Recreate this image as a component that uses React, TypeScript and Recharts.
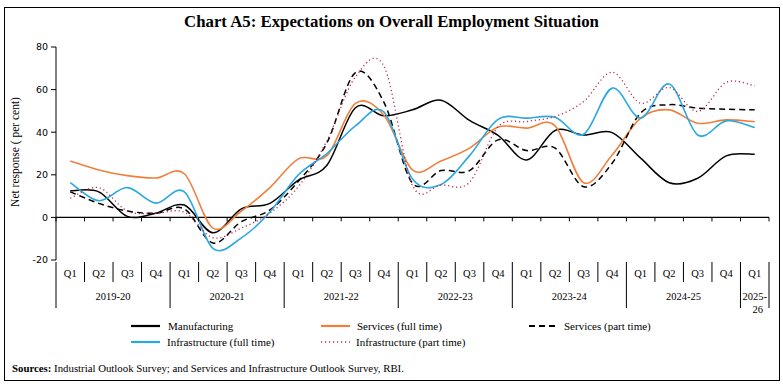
import React from 'react'
import { ComposedChart, Line, XAxis, YAxis, ReferenceLine } from 'recharts'

// quarters 2019-20 Q1 .. 2025-26 Q1
const years = ['2019-20', '2020-21', '2021-22', '2022-23', '2023-24', '2024-25', '2025-26']
const quarterNames = ['Q1', 'Q2', 'Q3', 'Q4']

const manufacturing = [12.5, 12, 0.5, 2, 5.8, -7.2, 4, 6.6, 17.5, 24.5, 51.5, 47.7, 50.5, 55, 45.5, 38.5, 27, 40.8, 38.7, 39.8, 27.8, 16.3, 18.4, 28.9, 29.6]
const servicesFull = [26.5, 22.3, 19.6, 18.5, 20.5, -5, 3, 14, 27.5, 29, 53.5, 48, 22.3, 26.5, 32.5, 42.4, 41.9, 43, 16.3, 29.3, 46.6, 50.5, 44.2, 45.8, 44.9]
const servicesPart = [12, 6.6, 3, 2, 4, -12, -2, 3.5, 17, 35, 68, 54, 16, 22, 22, 36.4, 31.4, 32.5, 14.4, 25.4, 49, 52.9, 51.3, 50.8, 50.5]
const infraFull = [16.3, 7.8, 14, 6.7, 12, -14.5, -9.6, 2.5, 20, 30, 43, 49.5, 18, 15.5, 29, 46, 46.6, 47, 39, 60.7, 46.6, 62.6, 38.7, 45.3, 42.2]
const infraPart = [9, 14, 3, 2, 2.4, -9.5, -5, 2, 14.5, 36, 66, 71, 15, 15.2, 16.5, 42.5, 45, 47.4, 54.4, 68.2, 53.6, 61, 49.7, 63.4, 61.8]

const yTicks = [-20, 0, 20, 40, 60, 80]

const data = manufacturing.map((_, i) => ({
  id: i,
  q: quarterNames[i % 4],
  year: years[Math.floor(i / 4)],
  mfg: manufacturing[i],
  svcFull: servicesFull[i],
  svcPart: servicesPart[i],
  infFull: infraFull[i],
  infPart: infraPart[i],
}))

const series = [
  { key: 'mfg', name: 'Manufacturing', color: '#000000', dash: undefined, width: 1.5 },
  { key: 'svcFull', name: 'Services (full time)', color: '#F07F3C', dash: undefined, width: 1.6 },
  { key: 'svcPart', name: 'Services (part time)', color: '#000000', dash: '6 4', width: 1.5 },
  { key: 'infFull', name: 'Infrastructure (full time)', color: '#2AA8E0', dash: undefined, width: 1.6 },
  { key: 'infPart', name: 'Infrastructure (part time)', color: '#C02848', dash: '1.2 2.8', width: 1.3 },
]

// chart geometry
const W = 783
const H = 384
const M = { top: 47, right: 14, left: 0, bottom: 24 }
const Y_AXIS_W = 56
const X_AXIS_H = 100
const plotTop = M.top
const plotH = H - M.top - M.bottom - X_AXIS_H
const zeroY = plotTop + (plotH * 80) / 100
const halfBand = (W - M.right - M.left - Y_AXIS_W) / data.length / 2

const serif = '"Liberation Serif", "Times New Roman", serif'

// Excel-like smoothed line (Catmull-Rom through the points)
function smoothCurve(context: any) {
  let pts: number[][] = []
  return {
    areaStart() {},
    areaEnd() {},
    lineStart() {
      pts = []
    },
    point(x: number, y: number) {
      pts.push([+x, +y])
    },
    lineEnd() {
      if (!pts.length) return
      context.moveTo(pts[0][0], pts[0][1])
      for (let i = 0; i < pts.length - 1; i++) {
        const p0 = pts[Math.max(0, i - 1)]
        const p1 = pts[i]
        const p2 = pts[i + 1]
        const p3 = pts[Math.min(pts.length - 1, i + 2)]
        const t = 1 / 6
        context.bezierCurveTo(
          p1[0] + (p2[0] - p0[0]) * t,
          p1[1] + (p2[1] - p0[1]) * t,
          p2[0] - (p3[0] - p1[0]) * t,
          p2[1] - (p3[1] - p1[1]) * t,
          p2[0],
          p2[1]
        )
      }
    },
  }
}

function QuarterTick(props: any) {
  const { x, payload, index } = props
  const row = data[payload.value] || data[index]
  const isFirst = row.q === 'Q1'
  const isLast = row.id === data.length - 1
  const groupSize = data.filter((d) => d.year === row.year).length
  const left = x - halfBand
  const right = x + halfBand
  const yearX = left + groupSize * halfBand
  const [yA, yB] = row.year.split('-')
  return (
    <g>
      <line x1={left} x2={left} y1={zeroY} y2={zeroY + 4} stroke="#000" />
      {isLast && <line x1={right} x2={right} y1={zeroY} y2={zeroY + 4} stroke="#000" />}
      <line x1={left} x2={left} y1={262} y2={isFirst ? 308 : 282} stroke="#000" />
      {isLast && <line x1={right} x2={right} y1={262} y2={308} stroke="#000" />}
      <text x={x} y={277} textAnchor="middle" fontSize={10.5} fontFamily={serif} fill="#000">
        {row.q}
      </text>
      {isFirst && groupSize > 1 && (
        <text x={yearX} y={300} textAnchor="middle" fontSize={10.5} fontFamily={serif} fill="#000">
          {row.year}
        </text>
      )}
      {isFirst && groupSize === 1 && (
        <text textAnchor="middle" fontSize={10.5} fontFamily={serif} fill="#000">
          <tspan x={x} y={300}>{yA + '-'}</tspan>
          <tspan x={x + 3} y={313}>{yB}</tspan>
        </text>
      )}
    </g>
  )
}

function YLabel() {
  return (
    <text
      x={0}
      y={0}
      transform={`translate(19, 152) rotate(-90)`}
      textAnchor="middle"
      fontSize={11.5}
      fontFamily={serif}
      fill="#000"
    >
      Net  response ( per cent)
    </text>
  )
}

function LegendBox() {
  const cols = [
    { lx: 131, tx: 168 },
    { lx: 321, tx: 357 },
    { lx: 529, tx: 564 },
  ]
  const rows = [
    [series[0], series[1], series[2]],
    [series[3], series[4]],
  ]
  return (
    <svg width={W} height={40} style={{ position: 'absolute', left: 0, top: 312 }}>
      {rows.map((r, ri) =>
        r.map((s, ci) => {
          const y = 14 + ri * 16
          const c = cols[ci]
          return (
            <g key={s.key}>
              <line
                x1={c.lx}
                x2={c.lx + 29}
                y1={y}
                y2={y}
                stroke={s.color}
                strokeWidth={s.key === 'infPart' ? 1.3 : 2.2}
                strokeDasharray={s.dash}
              />
              <text x={c.tx - (ri === 1 ? 1 : 0)} y={y + 3.5} fontSize={11} fontFamily={serif} fill="#000">
                {s.name}
              </text>
            </g>
          )
        })
      )}
    </svg>
  )
}

export default function App() {
  return (
    <div style={{ position: 'absolute', left: 0, top: 0, width: W, height: H, background: '#fff' }}>
      <div
        style={{
          position: 'absolute',
          left: 4,
          top: 7,
          width: 774,
          height: 372,
          border: '1px solid #000',
        }}
      />
      <div
        style={{
          position: 'absolute',
          left: 0,
          top: 12,
          width: W,
          textAlign: 'center',
          fontFamily: serif,
          fontWeight: 'bold',
          fontSize: 16.8,
          color: '#000',
        }}
      >
        Chart A5: Expectations on Overall Employment Situation
      </div>
      <div style={{ position: 'absolute', left: 0, top: 0 }}>
        <ComposedChart width={W} height={H} data={data} margin={M}>
          <XAxis
            dataKey="id"
            type="category"
            scale="band"
            height={X_AXIS_H}
            axisLine={false}
            tickLine={false}
            interval={0}
            tick={<QuarterTick />}
          />
          <YAxis
            width={Y_AXIS_W}
            domain={[-20, 80]}
            ticks={yTicks}
            interval={0}
            axisLine={{ stroke: '#000' }}
            tickLine={{ stroke: '#000' }}
            tickSize={5}
            tickMargin={3}
            tick={{ fontSize: 9.5, fill: '#000', fontFamily: '"DejaVu Sans", sans-serif' }}
            label={<YLabel />}
          />
          <ReferenceLine y={0} stroke="#000" strokeWidth={1.2} />
          {series.map((s) => (
            <Line
              key={s.key}
              dataKey={s.key}
              name={s.name}
              type={smoothCurve as any}
              stroke={s.color}
              strokeWidth={s.width}
              strokeDasharray={s.dash}
              dot={false}
              activeDot={false}
              isAnimationActive={false}
            />
          ))}
        </ComposedChart>
      </div>
      <LegendBox />
      <div
        style={{
          position: 'absolute',
          left: 12,
          top: 362,
          fontFamily: serif,
          fontSize: 10.8,
          color: '#000',
        }}
      >
        <b>Sources:</b> Industrial Outlook Survey; and Services and Infrastructure Outlook Survey, RBI.
      </div>
    </div>
  )
}
